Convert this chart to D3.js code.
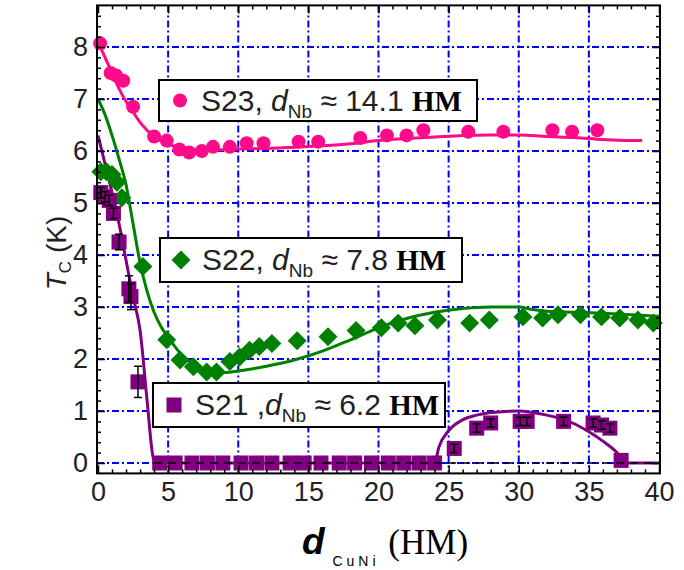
<!DOCTYPE html>
<html><head><meta charset="utf-8">
<script src="https://cdn.jsdelivr.net/npm/d3@7"></script>
<style>body{margin:0;background:#fff}svg{display:block}</style>
</head><body>
<svg id="c" width="684" height="570"></svg>
<script>
// ---- data ----
const s23X = [0.15, 0.9, 1.3, 1.8, 2.5, 4.0, 4.9, 5.8, 6.5, 7.4, 8.2, 9.4, 10.6, 11.8, 14.3, 15.7, 18.7, 20.6, 22.0, 23.2, 26.4, 28.9, 32.4, 33.8, 35.6];
const s23Y = [8.07, 7.5, 7.45, 7.35, 6.85, 6.28, 6.2, 6.03, 5.97, 6.0, 6.08, 6.08, 6.15, 6.15, 6.18, 6.18, 6.25, 6.3, 6.3, 6.4, 6.37, 6.37, 6.4, 6.37, 6.4];
const fit23X = [0, 0.5, 1, 1.5, 2, 2.5, 3, 3.5, 4, 5, 6, 7, 8, 10, 12, 14, 16, 18, 20, 22, 24, 26, 28, 30, 32, 34, 36, 38, 38.8];
const fit23Y = [8.1, 7.8, 7.5, 7.2, 6.95, 6.75, 6.55, 6.4, 6.28, 6.13, 6.05, 6.02, 6.02, 6.04, 6.05, 6.07, 6.1, 6.14, 6.2, 6.24, 6.27, 6.3, 6.31, 6.31, 6.28, 6.26, 6.22, 6.2, 6.2];

const s22X = [0.2, 0.6, 1.0, 1.35, 1.7, 3.2, 4.9, 5.85, 6.8, 7.75, 8.45, 9.4, 10.1, 10.8, 11.5, 12.4, 14.2, 16.4, 18.4, 20.2, 21.4, 22.6, 24.2, 26.5, 27.9, 30.3, 31.7, 32.8, 34.4, 35.9, 37.2, 38.5, 39.6];
const s22Y = [5.6, 5.6, 5.55, 5.4, 5.1, 3.78, 2.37, 1.98, 1.85, 1.75, 1.75, 1.95, 2.04, 2.17, 2.24, 2.3, 2.35, 2.43, 2.55, 2.6, 2.69, 2.64, 2.75, 2.69, 2.75, 2.81, 2.79, 2.85, 2.85, 2.81, 2.79, 2.75, 2.69];
const fit22X = [0, 0.5, 1, 1.5, 2, 2.5, 3, 3.5, 4, 4.5, 5, 6, 7, 8, 9, 10, 12, 14, 16, 18, 20, 22, 24, 26, 28, 30, 31, 32, 34, 36, 38, 40];
const fit22Y = [7.0, 6.7, 6.3, 5.85, 5.35, 4.6, 3.85, 3.3, 2.9, 2.62, 2.42, 2.07, 1.87, 1.76, 1.74, 1.77, 1.86, 1.98, 2.15, 2.37, 2.6, 2.78, 2.9, 2.97, 3.0, 3.0, 2.95, 2.92, 2.9, 2.88, 2.85, 2.82];

const s21X = [0.2, 0.5, 0.8, 1.1, 1.5, 2.2, 2.35, 2.85, 4.4, 5.5, 6.7, 7.8, 8.9, 10.2, 11.3, 12.4, 13.7, 14.7, 15.9, 17.2, 18.3, 19.5, 20.7, 21.8, 22.9, 24.0, 25.4, 27.0, 28.0, 30.1, 30.6, 33.2, 35.3, 35.9, 36.5, 37.3];
const s21Y = [5.2, 5.12, 5.05, 4.8, 4.25, 3.35, 3.2, 1.56, 0, 0, 0, 0, 0, 0, 0, 0, 0, 0, 0, 0, 0, 0, 0, 0, 0, 0, 0.28, 0.67, 0.77, 0.8, 0.8, 0.8, 0.77, 0.73, 0.67, 0.05];
const s21Err = [0.1, 0.1, 0.1, 0.1, 0.15, 0.25, 0.25, 0.3, 0, 0, 0, 0, 0, 0, 0, 0, 0, 0, 0, 0, 0, 0, 0, 0, 0, 0, 0.08, 0.08, 0.08, 0.08, 0.08, 0.08, 0.08, 0.08, 0.08, 0];
const fit21X = [0, 0.5, 1, 1.5, 2, 2.5, 3, 3.5, 3.9, 4.1, 24, 24.3, 25, 26, 27, 28, 29, 30, 31, 32, 33, 34, 35, 36, 37, 37.6, 40];
const fit21Y = [6.3, 5.75, 5.2, 4.6, 3.9, 3.2, 2.55, 1.2, 0.15, 0, 0, 0.3, 0.62, 0.83, 0.92, 0.97, 0.99, 1.0, 0.97, 0.92, 0.85, 0.75, 0.6, 0.42, 0.2, 0, 0];

const xTicks = [0, 5, 10, 15, 20, 25, 30, 35, 40];
const yTicks = [0, 1, 2, 3, 4, 5, 6, 7, 8];

const legendLabels = [
  {name: "S23, ", value: "14.1"},
  {name: "S22, ", value: "7.8"},
  {name: "S21 ,", value: "6.2"}
];

// ---- drawing ----
(function () {
const svg = d3.select("#c");
const x = d3.scaleLinear().domain([0, 40]).range([98, 659]);
const y = d3.scaleLinear().domain([0, 8]).range([463, 47]);
const pTop = y(8.8), pBot = y(-0.2), pLeft = x(0) - 1, pRight = x(40) + 1;

const PINK = "#ff0a88", GREEN = "#008000", PURPLE = "#800080";
const font = "'Liberation Sans', Arial, sans-serif";
const serif = "'Liberation Serif', 'Times New Roman', serif";

// grid
const grid = svg.append("g").attr("stroke", "#0000ff").attr("stroke-width", 2).attr("stroke-dasharray", "7,3,2,3");
grid.selectAll("line.v").data(xTicks.filter(d => d > 0 && d < 40)).join("line").attr("class", "v")
  .attr("x1", d => x(d)).attr("x2", d => x(d)).attr("y1", pTop).attr("y2", pBot);
grid.selectAll("line.h").data(yTicks).join("line").attr("class", "h")
  .attr("x1", pLeft).attr("x2", pRight).attr("y1", d => y(d)).attr("y2", d => y(d));

// fit lines
const line = d3.line().x(d => x(d[0])).y(d => y(d[1])).curve(d3.curveMonotoneX);
function fit(xs, ys, col) {
  svg.append("path").datum(xs.map((v, i) => [v, ys[i]]))
    .attr("d", line).attr("fill", "none").attr("stroke", col).attr("stroke-width", 3);
}
fit(fit21X, fit21Y, PURPLE);
fit(fit22X, fit22Y, GREEN);
fit(fit23X, fit23Y, PINK);

// markers
svg.append("g").selectAll("circle").data(s23X.map((v, i) => [v, s23Y[i]])).join("circle")
  .attr("cx", d => x(d[0])).attr("cy", d => y(d[1])).attr("r", 7).attr("fill", PINK);
const diamond = d3.symbol().type(d3.symbolSquare).size(180);
svg.append("g").selectAll("path").data(s22X.map((v, i) => [v, s22Y[i]])).join("path")
  .attr("d", diamond).attr("transform", d => `translate(${x(d[0])},${y(d[1])}) rotate(45)`).attr("fill", GREEN);
svg.append("g").selectAll("rect").data(s21X.map((v, i) => [v, s21Y[i]])).join("rect")
  .attr("x", d => x(d[0]) - 7.5).attr("y", d => y(d[1]) - 7.5).attr("width", 15).attr("height", 15).attr("fill", PURPLE);

// error bars
const eb = svg.append("g").attr("stroke", "#000").attr("stroke-width", 1.5);
s21X.forEach((v, i) => {
  const e = s21Err[i]; if (!e) return;
  const cx = x(v), y1 = y(s21Y[i] - e), y2 = y(s21Y[i] + e);
  eb.append("line").attr("x1", cx).attr("x2", cx).attr("y1", y1).attr("y2", y2);
  eb.append("line").attr("x1", cx - 4).attr("x2", cx + 4).attr("y1", y1).attr("y2", y1);
  eb.append("line").attr("x1", cx - 4).attr("x2", cx + 4).attr("y1", y2).attr("y2", y2);
});

// zero reference dashed line
svg.append("line").attr("x1", x(4)).attr("x2", pRight).attr("y1", y(0)).attr("y2", y(0))
  .attr("stroke", "#000").attr("stroke-width", 1.5).attr("stroke-dasharray", "8,6");

// frame
svg.append("rect").attr("x", pLeft).attr("y", pTop).attr("width", pRight - pLeft).attr("height", pBot - pTop)
  .attr("fill", "none").attr("stroke", "#000").attr("stroke-width", 2);

// axes ticks (inward on all sides)
function tickAxis(axisFn, scale, vals, size, tx, ty, labels) {
  const a = axisFn(scale).tickValues(vals).tickSizeInner(-size).tickSizeOuter(0).tickPadding(8);
  if (!labels) a.tickFormat("");
  const g = svg.append("g").attr("transform", `translate(${tx},${ty})`).call(a);
  g.select(".domain").remove();
  g.selectAll(".tick line").attr("stroke", "#000").attr("stroke-width", 1.5);
  g.selectAll("text").attr("font-family", font).attr("font-size", 27).attr("fill", "#222");
  return g;
}
const xMinor = d3.range(0, 41, 1).filter(d => d % 5 !== 0);
const yMinor = d3.range(0, 44, 1).map(d => d / 5).filter(d => Math.abs(d - Math.round(d)) > 1e-6);
tickAxis(d3.axisBottom, x, xTicks, 8, 0, pBot, true);
tickAxis(d3.axisBottom, x, xMinor, 4, 0, pBot, false);
tickAxis(d3.axisTop, x, xTicks, 8, 0, pTop, false);
tickAxis(d3.axisTop, x, xMinor, 4, 0, pTop, false);
const yl = tickAxis(d3.axisLeft, y, yTicks, 8, pLeft, 0, true);
yl.selectAll("text").attr("dx", -1);
tickAxis(d3.axisLeft, y, yMinor, 4, pLeft, 0, false);
tickAxis(d3.axisRight, y, yTicks, 8, pRight, 0, false);
tickAxis(d3.axisRight, y, yMinor, 4, pRight, 0, false);

// legends
const legends = [
  {box: [159, 80, 477, 121], col: PINK, shape: "circle", lab: legendLabels[0]},
  {box: [160, 238, 462, 282], col: GREEN, shape: "diamond", lab: legendLabels[1]},
  {box: [153, 383, 445, 427], col: PURPLE, shape: "square", lab: legendLabels[2]}
];
legends.forEach(L => {
  const [x0, y0, x1, y1] = L.box, cy = (y0 + y1) / 2;
  svg.append("rect").attr("x", x0).attr("y", y0).attr("width", x1 - x0).attr("height", y1 - y0)
    .attr("fill", "#fff").attr("stroke", "#000").attr("stroke-width", 2);
  const mx = x0 + 21;
  if (L.shape === "circle") svg.append("circle").attr("cx", mx).attr("cy", cy).attr("r", 7).attr("fill", L.col);
  if (L.shape === "diamond") svg.append("path").attr("d", diamond).attr("transform", `translate(${mx},${cy}) rotate(45)`).attr("fill", L.col);
  if (L.shape === "square") svg.append("rect").attr("x", mx - 7.5).attr("y", cy - 7.5).attr("width", 15).attr("height", 15).attr("fill", L.col);
  const t = svg.append("text").attr("x", x0 + 42).attr("y", cy + 10).attr("font-family", font).attr("font-size", 30).attr("fill", "#222");
  t.append("tspan").text(L.lab.name);
  t.append("tspan").attr("font-style", "italic").text("d");
  t.append("tspan").attr("font-size", 19).attr("dy", 7).text("Nb");
  t.append("tspan").attr("dy", -7).text(" \u2248 " + L.lab.value + " ");
  t.append("tspan").attr("font-family", serif).attr("font-weight", "bold").attr("font-size", 29).attr("fill", "#000").text("HM");
});

// axis titles
const yt = svg.append("text").attr("transform", `translate(66,253) rotate(-90)`).attr("text-anchor", "middle")
  .attr("font-family", font).attr("font-size", 28).attr("fill", "#222");
yt.append("tspan").attr("font-style", "italic").text("T");
yt.append("tspan").attr("font-size", 17).attr("dy", 5).text("C");
yt.append("tspan").attr("dy", -5).text(" (K)");

const xt = svg.append("text").attr("x", 385).attr("y", 554).attr("text-anchor", "middle").attr("fill", "#000");
xt.append("tspan").attr("font-family", font).attr("font-weight", "bold").attr("font-style", "italic").attr("font-size", 37).text("d");
xt.append("tspan").attr("font-family", font).attr("font-size", 14).attr("dy", 12).attr("letter-spacing", 4).text(" CuNi");
xt.append("tspan").attr("font-family", serif).attr("font-size", 35).attr("dy", -12).text(" (HM)");
})();
</script>
</body></html>
